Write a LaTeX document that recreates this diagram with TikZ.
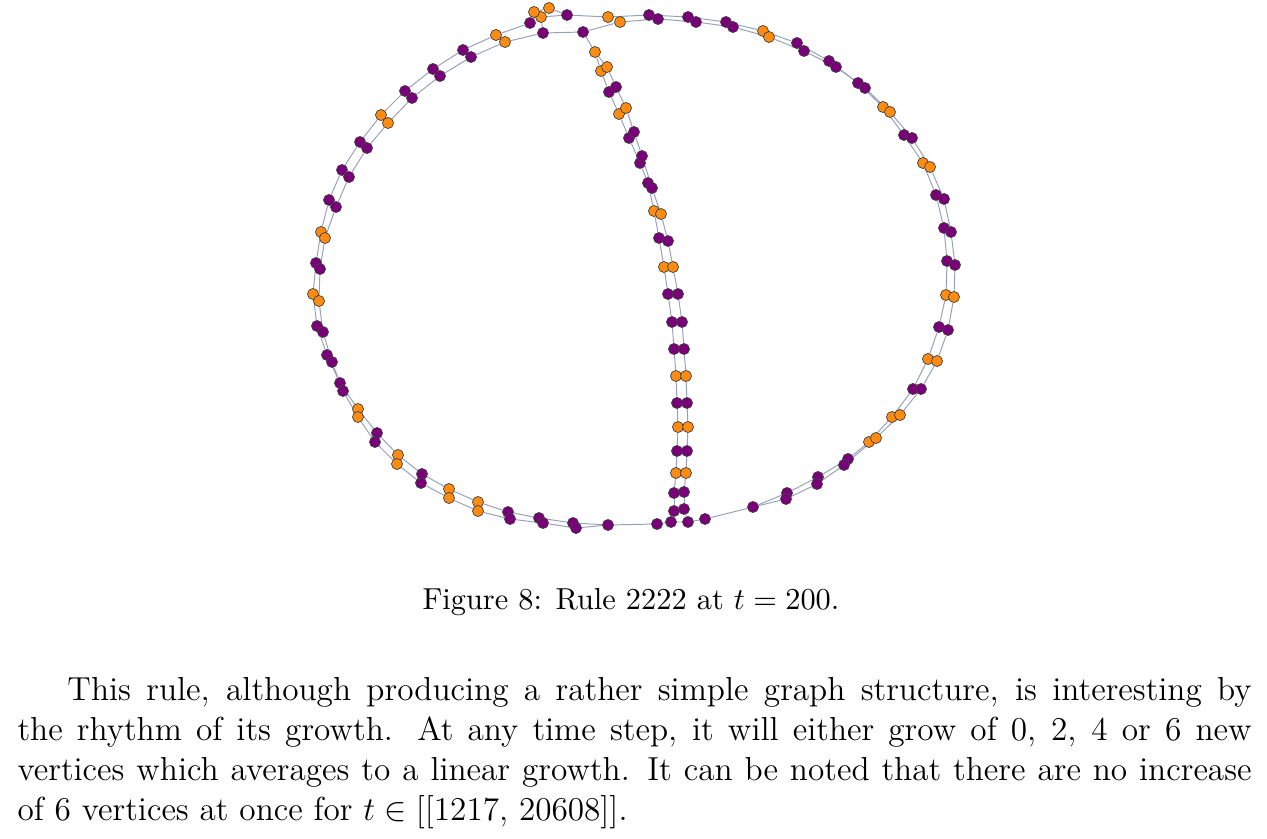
\documentclass[tikz,border=0pt]{standalone}
\usetikzlibrary{backgrounds}
\definecolor{vpurple}{RGB}{122,0,122}
\definecolor{vorange}{RGB}{255,140,16}
\definecolor{railblue}{RGB}{150,160,186}

\begin{document}
\begin{tikzpicture}[
  x=0.3606pt,y=-0.3606pt,
  font=\fontsize{12}{14.4}\selectfont,
  vtx/.style={circle,draw=black!75,line width=0.25pt,minimum size=4pt,inner sep=0pt},
  pv/.style={vtx,fill=vpurple},
  ov/.style={vtx,fill=vorange},
  rail/.style={draw=railblue,line width=0.35pt}
]
\useasboundingbox (0,0) rectangle (1267,839);

% ring of vertex pairs: left and bottom, then right and top
\foreach \xa/\ya/\xb/\yb/\c [count=\i] in {
  496/35/505/42/ov, 463/50/471/57/pv, 433/69/440/76/pv, 405/91/412/98/pv,
  381/115/388/123/ov, 360/142/367/148/pv, 342/170/349/177/pv, 329/200/336/207/pv,
  321/232/325/238/ov, 316/263/320/269/pv, 313/294/319/301/ov, 317/326/323/332/pv,
  327/355/332/362/pv, 340/383/343/391/pv, 358/409/358/417/ov, 377/433/375/442/pv,
  398/455/397/464/ov, 422/474/421/483/pv, 449/489/449/498/ov, 478/502/478/511/ov,
  508/512/510/519/pv, 539/518/543/523/pv, 573/523/576/528/pv,
  787/493/786/499/pv, 818/477/817/484/pv, 848/459/844/465/pv, 869/442/876/438/ov,
  892/417/900/415/ov, 913/389/921/389/pv, 928/359/937/361/ov, 939/327/948/330/pv,
  946/295/954/297/ov, 947/261/955/265/pv, 944/228/951/232/pv, 936/195/944/199/pv,
  923/163/930/167/ov, 904/135/912/138/pv, 883/107/890/112/ov, 858/83/865/88/pv,
  829/61/836/67/pv, 797/43/804/51/pv, 763/31/769/37/ov, 726/22/733/27/pv,
  688/17/696/22/pv, 649/15/658/19/pv, 608/17/620/22/ov}{
  \node[\c] (a\i) at (\xa,\ya) {};
  \node[\c] (b\i) at (\xb,\yb) {};
}

% chord from the top junction down to the bottom
\foreach \xa/\ya/\xb/\yb/\c [count=\i] in {
  601/71/607/67/ov, 609/92/616/87/pv, 619/114/626/108/ov, 629/138/634/132/pv,
  640/163/642/156/pv, 648/183/652/188/pv, 654/211/661/214/ov, 659/238/668/241/pv,
  664/267/673/267/ov, 668/294/678/294/pv, 672/322/682/322/pv, 674/349/684/349/pv,
  676/376/686/376/ov, 677/403/687/403/pv, 678/427/688/427/ov, 677/451/687/451/pv,
  676/473/686/473/ov, 674/493/684/492/pv, 674/511/684/509/pv}{
  \node[\c] (ca\i) at (\xa,\ya) {};
  \node[\c] (cb\i) at (\xb,\yb) {};
}

\foreach \n/\x/\y/\c in {s1/608/525/pv, s2/657/524/pv, s3/671/522/pv, s4/688/522/pv,
  s5/705/519/pv, s6/753/507/pv, t1/567/15/pv, t2/583/32/pv, t3/549/8/ov,
  t4/541/17/ov, t5/534/12/ov, t6/530/23/pv, t7/543/33/pv, c0/595/52/ov}
  \node[\c] (\n) at (\x,\y) {};

\begin{scope}[on background layer]
\foreach \i [count=\j from 2] in {1,...,22}{
  \draw[rail] (a\i) -- (a\j);
  \draw[rail] (b\i) -- (b\j);
}
\foreach \i [count=\j from 25] in {24,...,45}{
  \draw[rail] (a\i) -- (a\j);
  \draw[rail] (b\i) -- (b\j);
}
\foreach \i [count=\j from 2] in {1,...,18}{
  \draw[rail] (ca\i) -- (ca\j);
  \draw[rail] (cb\i) -- (cb\j);
}
\draw[rail] (a23) -- (s1);
\draw[rail] (b23) -- (s1) -- (s2) -- (s3) -- (s4) -- (s5) -- (s6) -- (a24);
\draw[rail] (s6) -- (b24);
\draw[rail] (ca19) -- (s3);
\draw[rail] (cb19) -- (s4);
\draw[rail] (a46) -- (t1) -- (t3) -- (t5) -- (t6) -- (a1);
\draw[rail] (t1) -- (t4) -- (t7);
\draw[rail] (b46) -- (t2) -- (t7) -- (b1);
\draw[rail] (t2) -- (c0) -- (ca1);
\draw[rail] (c0) -- (cb1);
\end{scope}

\node[anchor=base,font=\fontsize{10.95}{13.6}\selectfont] (cap) at (631,609)
 {Figure 8: Rule 2222 at $t = 200$.};

\node[anchor=north west,inner sep=0pt,text width=445pt,align=justify] (para) at (17,677)
 {\hspace*{1.5em}This rule, although producing a rather simple graph structure, is interesting by\linebreak
  the rhythm of its growth.  At any time step, it will either grow of 0, 2, 4 or 6 new\linebreak
  vertices which averages to a linear growth. It can be noted that there are no increase\linebreak
  of 6 vertices at once for $t \in [[1217$, $20608]]$.};
\end{tikzpicture}
\end{document}
